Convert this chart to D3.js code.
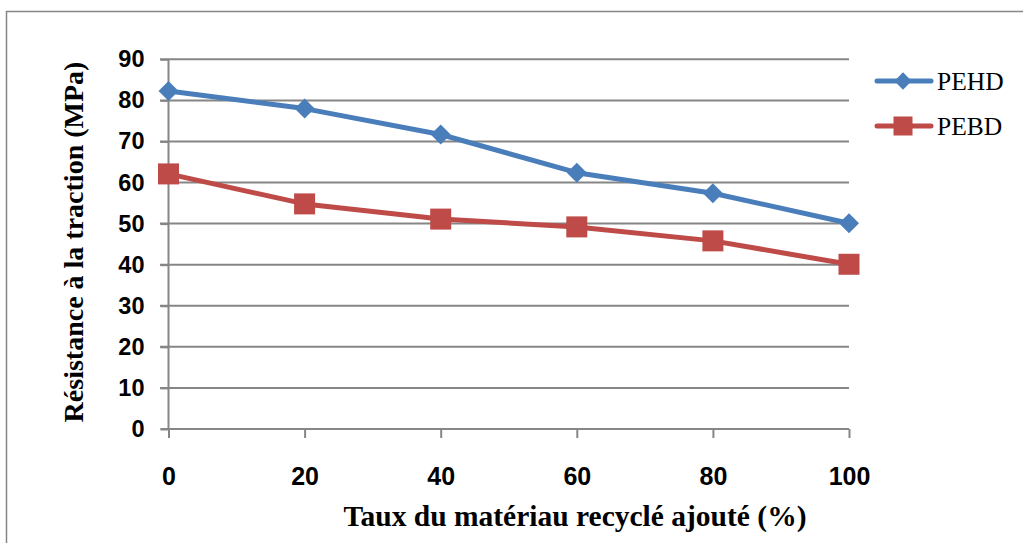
<!DOCTYPE html>
<html>
<head>
<meta charset="utf-8">
<script src="https://cdn.jsdelivr.net/npm/d3@7"></script>
<style>
html,body{margin:0;padding:0;background:#fff;}
svg{display:block;}
</style>
</head>
<body>
<svg id="chart" width="1023" height="543"></svg>
<script>
const categories = [0, 20, 40, 60, 80, 100];
const pehd = [82.3, 78.0, 71.7, 62.4, 57.4, 50.1];
const pebd = [62.1, 54.8, 51.1, 49.2, 45.8, 40.1];
const yTicks = [0, 10, 20, 30, 40, 50, 60, 70, 80, 90];
const seriesNames = ["PEHD", "PEBD"];
const seriesColors = ["#4A7EBB", "#BE4B48"];
const xTitle = "Taux du matériau recyclé ajouté (%)";
const yTitle = "Résistance à la traction (MPa)";

const svg = d3.select("#chart");
const gray = "#868686";

// outer border
svg.append("rect").attr("x", 6.5).attr("y", 11.5).attr("width", 1040).attr("height", 560)
  .attr("fill", "none").attr("stroke", gray).attr("stroke-width", 1.5);

const x = d3.scaleLinear().domain([0, 100]).range([168.5, 849]);
const y = d3.scaleLinear().domain([0, 90]).range([429, 59.3]);

// gridlines
svg.append("g").selectAll("line").data(yTicks.filter(d => d > 0)).join("line")
  .attr("x1", 160).attr("x2", x(100))
  .attr("y1", d => y(d)).attr("y2", d => y(d))
  .attr("stroke", gray).attr("stroke-width", 2);

// y axis
const yAxis = d3.axisLeft(y).tickValues(yTicks).tickSize(8).tickPadding(16);
const gy = svg.append("g").attr("transform", `translate(${x(0)},0)`).call(yAxis);
gy.select(".domain").attr("stroke", gray).attr("stroke-width", 2).attr("d", `M0,${y(90)}V${y(0)}`);
gy.selectAll(".tick line").attr("stroke", gray).attr("stroke-width", 2);
gy.selectAll(".tick text").attr("font-family", "'Liberation Sans', Arial, sans-serif")
  .attr("font-weight", "bold").attr("font-size", 23.5).attr("fill", "#000");

// x axis
const xAxis = d3.axisBottom(x).tickValues(categories).tickSize(9).tickPadding(29);
const gx = svg.append("g").attr("transform", `translate(0,${y(0)})`).call(xAxis);
gx.select(".domain").attr("stroke", gray).attr("stroke-width", 2).attr("d", `M${x(0) - 8},0H${x(100)}`);
gx.selectAll(".tick line").attr("stroke", gray).attr("stroke-width", 2);
gx.selectAll(".tick text").attr("font-family", "'Liberation Sans', Arial, sans-serif")
  .attr("font-weight", "bold").attr("font-size", 25).attr("fill", "#000");

// titles
svg.append("text").attr("x", 575).attr("y", 526)
  .attr("text-anchor", "middle").attr("font-family", "'Liberation Serif', 'Times New Roman', serif")
  .attr("font-weight", "bold").attr("font-size", 29.5).attr("fill", "#000").text(xTitle);
svg.append("text").attr("transform", `translate(83,${242}) rotate(-90)`)
  .attr("text-anchor", "middle").attr("font-family", "'Liberation Serif', 'Times New Roman', serif")
  .attr("font-weight", "bold").attr("font-size", 28).attr("fill", "#000").text(yTitle);

// series
const allSeries = [pehd, pebd];
const line = d3.line().x((d, i) => x(categories[i])).y(d => y(d));

allSeries.forEach((vals, si) => {
  svg.append("path").datum(vals).attr("d", line).attr("fill", "none")
    .attr("stroke", seriesColors[si]).attr("stroke-width", 5).attr("stroke-linejoin", "round");
});
allSeries.forEach((vals, si) => {
  const g = svg.append("g");
  if (si === 0) {
    g.selectAll("path").data(vals).join("path")
      .attr("d", d3.symbol().type(d3.symbolSquare).size(200))
      .attr("transform", (d, i) => `translate(${x(categories[i])},${y(d)}) rotate(45)`)
      .attr("fill", seriesColors[si]);
  } else {
    g.selectAll("rect").data(vals).join("rect")
      .attr("x", (d, i) => x(categories[i]) - 10.5).attr("y", d => y(d) - 10.5)
      .attr("width", 21).attr("height", 21).attr("fill", seriesColors[si]);
  }
});

// legend
const legY = [81, 126];
seriesNames.forEach((name, si) => {
  const g = svg.append("g").attr("transform", `translate(0,${legY[si]})`);
  g.append("line").attr("x1", 877).attr("x2", 931).attr("y1", 0).attr("y2", 0)
    .attr("stroke", seriesColors[si]).attr("stroke-width", 5).attr("stroke-linecap", "round");
  if (si === 0) {
    g.append("path").attr("d", d3.symbol().type(d3.symbolSquare).size(150))
      .attr("transform", "translate(903,0) rotate(45)").attr("fill", seriesColors[si]);
  } else {
    g.append("rect").attr("x", 893.5).attr("y", -9.5).attr("width", 19).attr("height", 19)
      .attr("fill", seriesColors[si]);
  }
  g.append("text").attr("x", 937).attr("y", 8.5).attr("font-family", "'Liberation Serif', 'Times New Roman', serif")
    .attr("font-size", 25.5).attr("fill", "#000").text(name);
});
</script>
</body>
</html>
